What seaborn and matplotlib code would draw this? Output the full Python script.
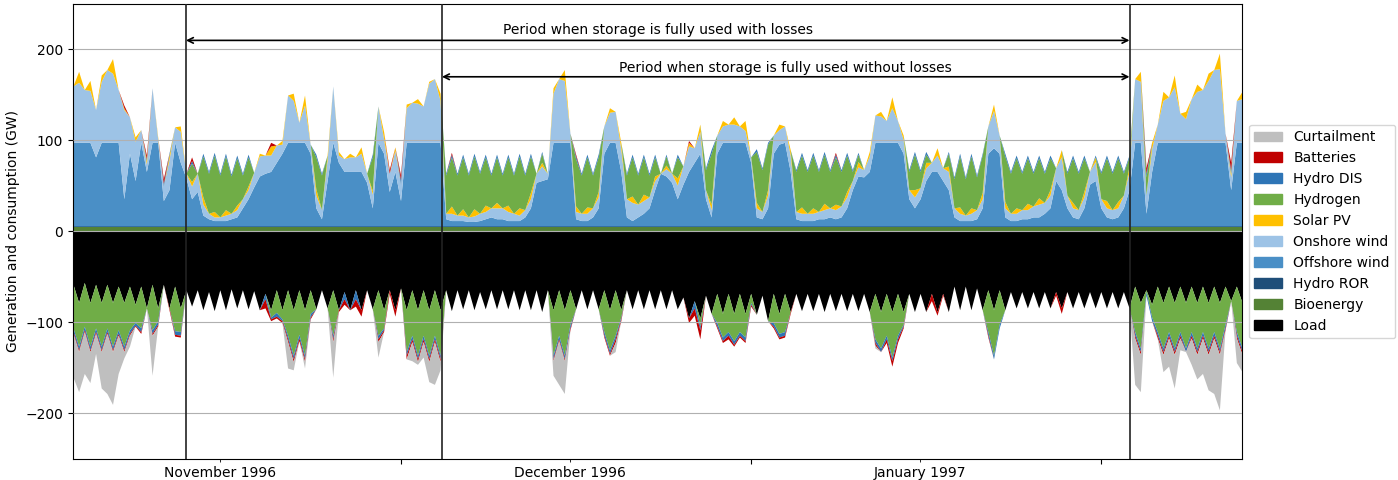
import pandas as pd
import numpy as np
import matplotlib
matplotlib.use("Agg")
import matplotlib.pyplot as plt
import matplotlib.dates as mdates
from matplotlib.patches import Patch
from matplotlib.ticker import NullFormatter
import seaborn as sns

# 12-hourly values (GW), starting 1996-11-02 00:00
bioenergy_gw = 4.5
hydro_ror_gw = 1.5

offshore = [
    92, 92, 92, 92, 76, 92, 92, 92, 92, 30, 80, 50, 92, 60, 92, 92, 28, 40, 92, 70,
    53, 30, 38, 12, 8, 6, 6, 6, 8, 10, 20, 30, 43, 55, 58, 60, 70, 80, 92, 92,
    92, 92, 80, 20, 8, 50, 92, 70, 60, 60, 60, 60, 48, 20, 92, 80, 38, 60, 28, 92,
    92, 92, 92, 92, 92, 92, 8, 6, 6, 6, 5, 5, 6, 8, 10, 8, 8, 6, 6, 6,
    10, 20, 48, 50, 52, 92, 92, 92, 92, 8, 6, 6, 10, 20, 80, 92, 92, 60, 10, 6,
    10, 14, 20, 40, 58, 55, 48, 30, 46, 60, 70, 80, 30, 10, 80, 92, 92, 92, 92, 92,
    70, 10, 8, 20, 80, 90, 92, 60, 8, 6, 6, 6, 8, 8, 10, 8, 10, 20, 40, 55,
    54, 60, 92, 92, 92, 92, 92, 80, 30, 20, 30, 50, 60, 60, 50, 40, 10, 6, 6, 6,
    8, 20, 80, 86, 80, 10, 6, 6, 8, 8, 10, 10, 14, 20, 50, 40, 20, 10, 8, 20,
    46, 50, 20, 10, 8, 10, 20, 40, 92, 92, 14, 60, 92, 92, 92, 92, 92, 92, 92, 92,
    92, 92, 92, 92, 92, 40, 92, 92,
]
onshore = [
    62, 66, 58, 57, 52, 67, 80, 76, 58, 98, 40, 43, 14, 8, 60, 4, 16, 33, 17, 34,
    5, 14, 20, 12, 6, 4, 4, 6, 6, 8, 10, 10, 16, 22, 20, 18, 19, 10, 52, 46,
    22, 41, 10, 14, 10, 23, 62, 8, 14, 16, 16, 20, 10, 15, 40, 16, 20, 23, 18, 38,
    44, 43, 40, 65, 70, 46, 6, 8, 6, 6, 5, 6, 8, 8, 10, 12, 12, 10, 8, 6,
    8, 10, 10, 16, 6, 54, 70, 68, 10, 8, 8, 8, 10, 12, 30, 33, 34, 25, 20, 20,
    14, 14, 12, 10, 0, 8, 10, 15, 20, 28, 16, 24, 10, 8, 20, 18, 20, 20, 18, 13,
    6, 10, 8, 14, 20, 16, 18, 18, 8, 8, 8, 8, 8, 10, 10, 10, 12, 12, 10, 10,
    8, 17, 30, 29, 24, 38, 24, 15, 10, 12, 12, 14, 10, 18, 14, 20, 10, 8, 6, 8,
    10, 10, 30, 41, 20, 10, 8, 8, 10, 10, 12, 14, 12, 14, 14, 36, 14, 10, 10, 12,
    14, 21, 10, 10, 10, 10, 14, 20, 70, 67, 20, 25, 20, 46, 50, 61, 32, 26, 48, 56,
    58, 68, 80, 81, 10, 14, 46, 48,
]
solar = [
    0, 12, 0, 11, 0, 7, 0, 16, 0, 2, 0, 5, 0, 4, 0, 2, 0, 5, 0, 6,
    0, 5, 0, 8, 0, 6, 0, 6, 0, 5, 0, 4, 0, 3, 0, 10, 0, 4, 0, 8,
    0, 11, 0, 7, 0, 5, 0, 4, 0, 4, 0, 7, 0, 4, 0, 8, 0, 4, 0, 4,
    0, 5, 0, 2, 0, 8, 0, 8, 0, 7, 0, 8, 0, 7, 0, 6, 0, 7, 0, 8,
    0, 7, 0, 4, 0, 6, 0, 12, 0, 6, 0, 7, 0, 6, 0, 5, 0, 7, 0, 7,
    0, 7, 0, 5, 0, 4, 0, 8, 0, 4, 0, 8, 0, 6, 0, 6, 0, 8, 0, 11,
    0, 6, 0, 6, 0, 6, 0, 6, 0, 7, 0, 6, 0, 7, 0, 6, 0, 6, 0, 6,
    0, 5, 0, 5, 0, 12, 0, 5, 0, 8, 0, 6, 0, 8, 0, 6, 0, 7, 0, 6,
    0, 7, 0, 7, 0, 7, 0, 6, 0, 7, 0, 7, 0, 6, 0, 8, 0, 6, 0, 6,
    0, 5, 0, 8, 0, 7, 0, 6, 0, 11, 0, 7, 0, 10, 0, 13, 0, 8, 0, 8,
    0, 8, 0, 17, 0, 4, 0, 8,
]
hydrogen_out = [
    0, 0, 0, 0, 0, 0, 0, 0, 0, 0, 0, 0, 0, 0, 0, 0, 0, 0, 0, 0,
    0, 20, 0, 45, 44, 62, 46, 59, 41, 52, 26, 32, 0, 0, 0, 0, 0, 0, 0, 0,
    0, 0, 0, 35, 38, 0, 0, 0, 0, 0, 0, 0, 0, 37, 0, 0, 0, 0, 0, 0,
    0, 0, 0, 0, 0, 0, 42, 54, 44, 57, 46, 58, 44, 53, 36, 50, 36, 53, 42, 57,
    38, 40, 0, 10, 0, 0, 0, 0, 0, 52, 42, 55, 36, 38, 0, 0, 0, 0, 26, 43,
    32, 41, 24, 21, 0, 10, 0, 23, 0, 0, 0, 0, 22, 56, 0, 0, 0, 0, 0, 0,
    0, 56, 46, 50, 0, 0, 0, 0, 44, 57, 46, 58, 44, 54, 40, 52, 38, 40, 10, 8,
    0, 0, 0, 0, 0, 0, 0, 0, 20, 39, 18, 9, 0, 0, 0, 14, 32, 56, 40, 57,
    36, 41, 0, 0, 0, 50, 44, 55, 40, 50, 36, 44, 32, 35, 0, 0, 24, 49, 40, 37,
    0, 0, 28, 47, 40, 48, 24, 10, 0, 0, 20, 0, 0, 0, 0, 0, 0, 0, 0, 0,
    0, 0, 0, 0, 0, 0, 0, 0,
]
hydro_dis_out = [
    0, 0, 0, 0, 0, 0, 0, 0, 0, 0, 0, 0, 0, 2, 0, 0, 3, 2, 0, 0,
    0, 3, 0, 3, 2, 3, 2, 3, 2, 3, 2, 3, 0, 0, 0, 0, 0, 0, 0, 0,
    0, 0, 0, 3, 2, 0, 0, 0, 0, 0, 0, 0, 0, 3, 0, 0, 0, 0, 5, 0,
    0, 0, 0, 0, 0, 0, 2, 3, 2, 3, 2, 3, 2, 3, 2, 3, 2, 3, 2, 3,
    2, 3, 0, 2, 0, 0, 0, 0, 0, 3, 2, 3, 2, 3, 0, 0, 0, 0, 2, 3,
    2, 3, 2, 3, 0, 2, 0, 3, 0, 0, 0, 0, 2, 4, 0, 0, 0, 0, 0, 0,
    0, 3, 2, 2, 0, 0, 0, 0, 2, 3, 2, 3, 2, 3, 2, 3, 2, 3, 2, 2,
    0, 0, 0, 0, 0, 0, 0, 0, 2, 3, 2, 3, 0, 0, 0, 2, 2, 3, 2, 3,
    2, 2, 0, 0, 0, 3, 2, 3, 2, 3, 2, 3, 2, 3, 0, 0, 2, 3, 2, 3,
    0, 2, 2, 3, 2, 3, 2, 2, 0, 0, 4, 0, 0, 0, 0, 0, 0, 0, 0, 0,
    0, 0, 0, 0, 0, 4, 0, 0,
]
batteries_out = [
    0, 0, 0, 0, 0, 0, 0, 0, 0, 3, 0, 0, 0, 4, 0, 0, 5, 0, 0, 0,
    0, 4, 0, 0, 0, 0, 0, 0, 0, 0, 0, 0, 0, 0, 0, 4, 0, 0, 0, 0,
    0, 0, 0, 0, 0, 0, 0, 0, 0, 0, 0, 0, 0, 0, 0, 0, 4, 0, 5, 0,
    0, 0, 0, 0, 0, 0, 0, 2, 0, 0, 0, 0, 0, 0, 0, 0, 0, 0, 0, 0,
    0, 0, 0, 0, 0, 0, 0, 0, 0, 2, 0, 0, 0, 0, 0, 0, 0, 0, 0, 0,
    0, 0, 0, 0, 0, 0, 0, 0, 0, 2, 0, 0, 0, 0, 0, 0, 0, 0, 0, 0,
    0, 0, 0, 0, 0, 0, 0, 0, 0, 0, 0, 0, 0, 0, 0, 2, 0, 0, 0, 0,
    0, 0, 0, 0, 0, 0, 0, 0, 0, 0, 0, 0, 0, 0, 0, 0, 0, 0, 0, 0,
    0, 0, 0, 0, 0, 0, 0, 0, 0, 0, 0, 0, 0, 0, 0, 0, 0, 0, 0, 0,
    0, 0, 0, 0, 0, 0, 0, 0, 0, 0, 6, 0, 0, 0, 0, 0, 0, 0, 0, 0,
    0, 0, 0, 0, 0, 8, 0, 0,
]

load = [
    58, 78, 56, 78, 58, 78, 58, 78, 60, 78, 60, 80, 60, 84, 58, 84, 58, 84, 60, 84,
    64, 82, 64, 86, 66, 87, 64, 86, 63, 84, 64, 85, 65, 86, 68, 86, 64, 86, 64, 86,
    64, 86, 64, 85, 64, 84, 64, 86, 66, 86, 64, 86, 64, 85, 64, 86, 64, 86, 62, 86,
    64, 86, 64, 86, 64, 86, 64, 87, 64, 85, 64, 86, 66, 85, 64, 85, 64, 85, 64, 86,
    64, 86, 64, 88, 64, 86, 64, 86, 64, 85, 64, 85, 64, 85, 64, 86, 64, 86, 64, 85,
    64, 85, 64, 85, 64, 85, 64, 85, 72, 95, 76, 95, 70, 90, 68, 90, 68, 90, 68, 90,
    68, 91, 70, 98, 68, 90, 68, 88, 68, 87, 68, 87, 68, 88, 68, 87, 68, 87, 68, 87,
    68, 88, 68, 88, 68, 88, 68, 88, 68, 88, 68, 88, 68, 88, 68, 88, 60, 86, 60, 86,
    62, 86, 64, 86, 64, 86, 66, 84, 66, 84, 66, 84, 66, 84, 66, 84, 66, 84, 66, 84,
    66, 84, 66, 84, 66, 84, 66, 84, 60, 78, 64, 80, 60, 78, 60, 78, 60, 78, 60, 78,
    60, 78, 60, 78, 60, 76, 60, 78,
]
hydrogen_in = [
    48, 48, 48, 48, 48, 48, 48, 48, 48, 48, 48, 20, 46, 0, 50, 14, 0, 0, 49, 26,
    0, 0, 0, 0, 0, 0, 0, 0, 0, 0, 0, 0, 0, 0, 0, 8, 25, 10, 50, 50,
    49, 50, 26, 0, 0, 0, 50, 0, 0, 0, 0, 0, 0, 0, 50, 20, 0, 0, 0, 46,
    50, 50, 50, 50, 50, 50, 0, 0, 0, 0, 0, 0, 0, 0, 0, 0, 0, 0, 0, 0,
    0, 0, 0, 0, 0, 50, 50, 50, 38, 0, 0, 0, 0, 0, 46, 44, 50, 8, 0, 0,
    0, 0, 0, 0, 0, 0, 0, 0, 0, 0, 0, 9, 0, 0, 32, 26, 42, 30, 42, 26,
    10, 0, 0, 0, 32, 22, 42, 0, 0, 0, 0, 0, 0, 0, 0, 0, 0, 0, 0, 0,
    0, 0, 50, 40, 46, 50, 46, 14, 0, 0, 0, 0, 0, 0, 0, 0, 0, 0, 0, 0,
    0, 0, 46, 50, 38, 0, 0, 0, 0, 0, 0, 0, 0, 0, 0, 0, 0, 0, 0, 0,
    0, 0, 0, 0, 0, 0, 0, 0, 50, 50, 2, 14, 50, 50, 50, 50, 50, 50, 50, 50,
    50, 50, 50, 50, 42, 0, 50, 50,
]
hydro_dis_in = [
    4, 4, 4, 4, 4, 4, 4, 4, 4, 4, 4, 3, 4, 0, 4, 4, 0, 0, 4, 4,
    0, 0, 0, 0, 0, 0, 0, 0, 0, 0, 0, 0, 0, 0, 6, 2, 4, 2, 4, 4,
    4, 4, 4, 0, 0, 0, 4, 0, 8, 0, 10, 0, 0, 0, 4, 2, 0, 0, 0, 4,
    4, 4, 4, 4, 4, 4, 0, 0, 0, 0, 0, 0, 0, 0, 0, 0, 0, 0, 0, 0,
    0, 0, 0, 0, 0, 4, 4, 4, 4, 0, 0, 0, 0, 0, 4, 4, 4, 2, 0, 0,
    0, 0, 0, 0, 0, 0, 0, 0, 0, 0, 8, 4, 0, 0, 4, 4, 4, 4, 4, 4,
    2, 0, 0, 0, 4, 4, 4, 0, 0, 0, 0, 0, 0, 0, 0, 0, 0, 0, 0, 0,
    0, 0, 4, 4, 4, 4, 4, 2, 0, 0, 0, 0, 0, 0, 0, 0, 0, 0, 0, 0,
    0, 0, 4, 4, 4, 0, 0, 0, 0, 0, 0, 0, 0, 0, 0, 0, 0, 0, 0, 0,
    0, 0, 0, 0, 0, 0, 0, 0, 4, 4, 4, 4, 4, 4, 4, 4, 4, 4, 4, 4,
    4, 4, 4, 4, 4, 0, 4, 4,
]
batteries_in = [
    2, 2, 2, 2, 2, 2, 2, 2, 2, 2, 2, 1, 2, 0, 2, 2, 0, 2, 2, 2,
    0, 0, 0, 0, 0, 0, 0, 0, 0, 0, 0, 0, 0, 0, 10, 2, 2, 2, 3, 3,
    3, 3, 2, 0, 0, 0, 3, 2, 6, 0, 8, 7, 0, 0, 3, 2, 4, 7, 0, 4,
    3, 3, 3, 3, 3, 3, 0, 0, 0, 0, 0, 0, 0, 0, 0, 0, 0, 0, 0, 0,
    0, 0, 0, 0, 0, 2, 2, 2, 2, 0, 0, 0, 0, 0, 2, 2, 4, 2, 0, 0,
    0, 0, 0, 0, 0, 0, 0, 0, 0, 5, 8, 10, 0, 0, 2, 2, 4, 2, 2, 2,
    2, 0, 0, 0, 2, 2, 2, 2, 0, 0, 0, 0, 0, 0, 0, 0, 0, 0, 0, 0,
    0, 0, 3, 0, 4, 6, 4, 2, 0, 0, 0, 0, 8, 4, 2, 0, 0, 0, 0, 0,
    0, 0, 2, 0, 0, 0, 0, 0, 0, 0, 0, 0, 0, 0, 4, 6, 0, 0, 0, 0,
    0, 0, 0, 0, 0, 0, 0, 0, 3, 3, 0, 0, 3, 3, 3, 3, 3, 0, 3, 3,
    3, 3, 3, 3, 2, 0, 3, 3,
]
curtailment = [
    48, 44, 46, 34, 22, 40, 66, 58, 42, 7, 12, 0, 0, 0, 44, 0, 0, 0, 0, 0,
    0, 0, 0, 0, 0, 0, 0, 0, 0, 0, 0, 0, 0, 0, 0, 0, 0, 0, 29, 9,
    0, 7, 0, 0, 0, 0, 39, 0, 0, 0, 0, 0, 0, 0, 17, 0, 0, 0, 0, 0,
    21, 3, 17, 22, 47, 9, 0, 0, 0, 0, 0, 0, 0, 0, 0, 0, 0, 0, 0, 0,
    0, 0, 0, 0, 0, 16, 48, 36, 0, 0, 0, 0, 0, 0, 0, 0, 10, 0, 0, 0,
    0, 0, 0, 0, 0, 0, 0, 0, 0, 0, 0, 0, 0, 0, 0, 0, 0, 0, 0, 0,
    0, 0, 0, 0, 0, 0, 0, 0, 0, 0, 0, 0, 0, 0, 0, 0, 0, 0, 0, 0,
    0, 0, 3, 0, 0, 0, 0, 0, 0, 0, 0, 0, 0, 0, 0, 0, 0, 0, 0, 0,
    0, 0, 0, 0, 0, 0, 0, 0, 0, 0, 0, 0, 0, 0, 0, 0, 0, 0, 0, 0,
    0, 0, 0, 0, 0, 0, 0, 0, 51, 41, 0, 0, 1, 19, 31, 37, 13, 0, 29, 27,
    39, 39, 61, 61, 0, 0, 27, 19,
]

legend_labels = ["Curtailment", "Batteries", "Hydro DIS", "Hydrogen", "Solar PV",
                 "Onshore wind", "Offshore wind", "Hydro ROR", "Bioenergy", "Load"]
colors = {
    "Curtailment": "#bfbfbf", "Batteries": "#c00000", "Hydro DIS": "#2e75b6",
    "Hydrogen": "#70ad47", "Solar PV": "#ffc000", "Onshore wind": "#9dc3e6",
    "Offshore wind": "#4a8fc6", "Hydro ROR": "#1f4e79", "Bioenergy": "#548235",
    "Load": "#000000",
}

# storage periods (start of "with losses", start of "without losses", common end)
period_with_losses = "1996-11-12 00:00"
period_without_losses = "1996-12-04 16:00"
period_end = "1997-02-03 13:00"


def main():
    sns.set_style("ticks", rc={
        "axes.edgecolor": "black", "text.color": "black", "axes.labelcolor": "black",
        "xtick.color": "black", "ytick.color": "black",
    })
    plt.rcParams["font.family"] = ["DejaVu Sans"]

    n = len(load)
    times = pd.date_range("1996-11-02 00:00", periods=n, freq="12h")
    x = mdates.date2num(times)

    fig, ax = plt.subplots(figsize=(13.98, 4.8), dpi=100)
    fig.subplots_adjust(left=0.0522, right=0.8884, bottom=0.0438, top=0.9917)

    pos = [np.full(n, bioenergy_gw), np.full(n, hydro_ror_gw), offshore, onshore,
           solar, hydrogen_out, hydro_dis_out, batteries_out]
    pos_names = ["Bioenergy", "Hydro ROR", "Offshore wind", "Onshore wind",
                 "Solar PV", "Hydrogen", "Hydro DIS", "Batteries"]
    ax.stackplot(x, *[np.asarray(p, float) for p in pos],
                 colors=[colors[c] for c in pos_names], linewidth=0)

    neg = [load, hydrogen_in, hydro_dis_in, batteries_in, curtailment]
    neg_names = ["Load", "Hydrogen", "Hydro DIS", "Batteries", "Curtailment"]
    ax.stackplot(x, *[-np.asarray(p, float) for p in neg],
                 colors=[colors[c] for c in neg_names], linewidth=0)

    ax.set_xlim(x[0], x[-1])
    ax.set_ylim(-250, 250)
    ax.set_yticks([-200, -100, 0, 100, 200])
    ax.yaxis.grid(True, color="#b0b0b0", linewidth=0.8)
    ax.xaxis.grid(False)
    ax.set_axisbelow(False)
    for s in ax.spines.values():
        s.set_visible(True)
        s.set_linewidth(0.8)

    # month starts as unlabeled major ticks, labels in the middle of the month
    ax.xaxis.set_major_locator(mdates.MonthLocator())
    ax.xaxis.set_major_formatter(NullFormatter())
    mid = mdates.date2num(pd.to_datetime(["1996-11-15", "1996-12-16", "1997-01-16"]))
    ax.set_xticks(mid, minor=True)
    ax.set_xticklabels(["November 1996", "December 1996", "January 1997"], minor=True)
    ax.tick_params(axis="x", which="major", length=3.5, width=0.8)
    ax.tick_params(axis="x", which="minor", length=2, width=0.6, labelsize=10)
    ax.tick_params(axis="y", length=3.5, width=0.8, labelsize=10)

    ax.set_ylabel("Generation and consumption (GW)", fontsize=10)

    t0, t1, t2 = mdates.date2num(pd.to_datetime(
        [period_with_losses, period_without_losses, period_end]))
    for t in (t0, t1, t2):
        ax.axvline(t, color="#222222", linewidth=1.2, zorder=5)

    arrow = dict(arrowstyle="<->", color="black", lw=1.2, shrinkA=0, shrinkB=0)
    ax.annotate("", xy=(t2, 210), xytext=(t0, 210), arrowprops=arrow, zorder=6)
    ax.annotate("", xy=(t2, 170), xytext=(t1, 170), arrowprops=arrow, zorder=6)
    ax.text((t0 + t2) / 2, 221, "Period when storage is fully used with losses",
            ha="center", va="center", fontsize=10)
    ax.text((t1 + t2) / 2, 180, "Period when storage is fully used without losses",
            ha="center", va="center", fontsize=10)

    handles = [Patch(facecolor=colors[l], edgecolor=colors[l], label=l)
               for l in legend_labels]
    ax.legend(handles=handles, loc="center left", bbox_to_anchor=(1.0, 0.5),
              fontsize=10, frameon=True, edgecolor="0.8", fancybox=True)

    fig.savefig("out.png", dpi=100)


if __name__ == "__main__":
    main()
